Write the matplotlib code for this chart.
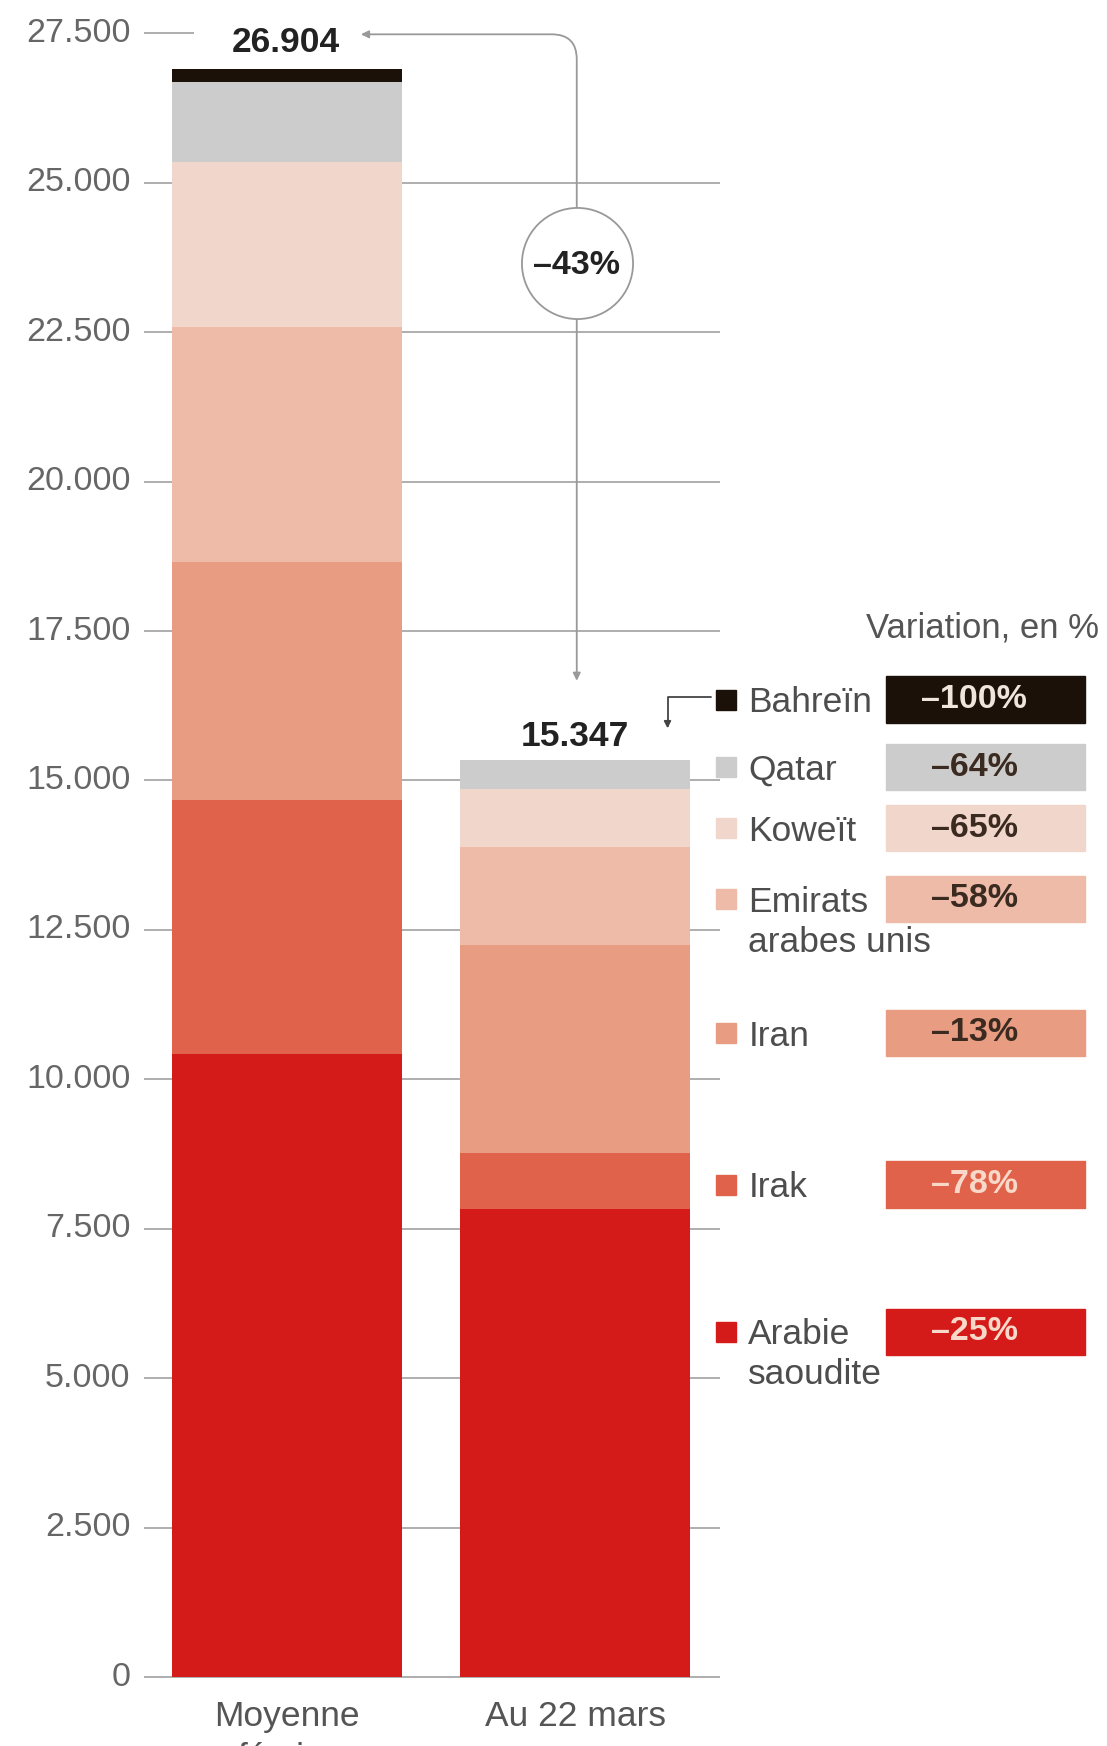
import matplotlib
matplotlib.use('Agg')
import matplotlib.pyplot as plt
from matplotlib.patches import Rectangle

# data (barils / jour, milliers)
countries = ['Arabie\nsaoudite', 'Irak', 'Iran', 'Emirats\narabes unis', 'Koweït', 'Qatar', 'Bahreïn']
moyenne_fev = [10430, 4250, 3980, 3920, 2760, 1350, 214]
au_22_mars = [7830, 940, 3470, 1650, 970, 487, 0]
variation = [-25, -78, -13, -58, -65, -64, -100]
totals = [26904, 15347]
total_change = -43
bar_labels = ['Moyenne\nfévrier', 'Au 22 mars']
yticks = [0, 2500, 5000, 7500, 10000, 12500, 15000, 17500, 20000, 22500, 25000, 27500]

colors = ['#d41b19', '#e0624a', '#e89c82', '#edbba8', '#f1d6cc', '#cdcccc', '#1c1109']
box_text_colors = ['#f8d8c8', '#f8d8c8', '#3a2a20', '#3a2a20', '#3a2a20', '#3a2a20', '#eee6de']

FONT = ['Liberation Sans', 'DejaVu Sans']


def yv(py):
    # layout helper: picture row -> value on the y scale
    return (1515 - py) * 2500 / 135


fig = plt.figure(figsize=(11.07, 17.46), dpi=100)
ax = fig.add_axes([0, 0, 1, 1])
ax.set_xlim(0, 1000)
ax.set_ylim(yv(1577.2), yv(0))
ax.axis('off')

# grid lines
ax.hlines(yticks[:-1], 130, 650, color='#a8a8a8', lw=1.3, zorder=0)
ax.hlines(yticks[-1], 130, 175, color='#a8a8a8', lw=1.3, zorder=0)
for t in yticks:
    ax.text(118, t, '{:,}'.format(t).replace(',', '.'), ha='right', va='center',
            fontsize=24.5, color='#666666', family=FONT)

# stacked bars
xpos = [259, 519.5]
bottoms = [0, 0]
for i, c in enumerate(countries):
    vals = [moyenne_fev[i], au_22_mars[i]]
    ax.bar(xpos, vals, width=208, bottom=bottoms, color=colors[i], zorder=2)
    bottoms = [bottoms[0] + vals[0], bottoms[1] + vals[1]]

for x, lab in zip(xpos, bar_labels):
    ax.text(x, yv(1536), lab, ha='center', va='top', fontsize=25.5, color='#555555',
            family=FONT, linespacing=1.35)

# totals
ax.text(258, yv(38), '{:,}'.format(totals[0]).replace(',', '.'), ha='center', va='center',
        fontsize=25.5, weight='bold', color='#222222', family=FONT)
ax.text(519, yv(665), '{:,}'.format(totals[1]).replace(',', '.'), ha='center', va='center',
        fontsize=25.5, weight='bold', color='#222222', family=FONT)

# connector with the -43% circle
ax.annotate('', xy=(326, yv(31)), xytext=(521, yv(615)),
            arrowprops=dict(arrowstyle='<|-|>,head_length=0.45,head_width=0.22', color='#999999',
                            lw=1.3, shrinkA=0, shrinkB=0,
                            connectionstyle='angle,angleA=90,angleB=0,rad=25'), zorder=3)
ax.plot(521, yv(238), 'o', ms=80, mfc='white', mec='#999999', mew=1.3, zorder=5)
ax.text(521, yv(240), '–{}%'.format(abs(total_change)), ha='center', va='center',
        fontsize=24.5, weight='bold', color='#222222', family=FONT, zorder=6)

# small bracket from legend to second total
ax.annotate('', xy=(603, yv(658)), xytext=(642, yv(630)),
            arrowprops=dict(arrowstyle='-|>,head_length=0.4,head_width=0.2', color='#444444',
                            lw=1.3, shrinkA=0, shrinkB=0,
                            connectionstyle='angle,angleA=0,angleB=90,rad=0'), zorder=3)

# legend with variation boxes
ax.text(993, yv(567), 'Variation, en %', ha='right', va='center', fontsize=25,
        color='#555555', family=FONT)
row_y = [1203, 1070, 933, 812, 748, 693, 632]
for i, c in enumerate(countries):
    py = row_y[i]
    ax.plot(656, yv(py), 's', ms=15, color=colors[i], zorder=4)
    ax.text(676, yv(py - 12), c, ha='left', va='top', fontsize=25.5, color='#4d4d4d',
            family=FONT, linespacing=1.27)
    ax.add_patch(Rectangle((800, yv(py + 21)), 180, yv(py - 21) - yv(py + 21),
                           color=colors[i], zorder=3))
    ax.text(880, yv(py), '–{}%'.format(abs(variation[i])), ha='center', va='center',
            fontsize=24.5, weight='bold', color=box_text_colors[i], family=FONT, zorder=4)

fig.savefig('out.png', dpi=100)
